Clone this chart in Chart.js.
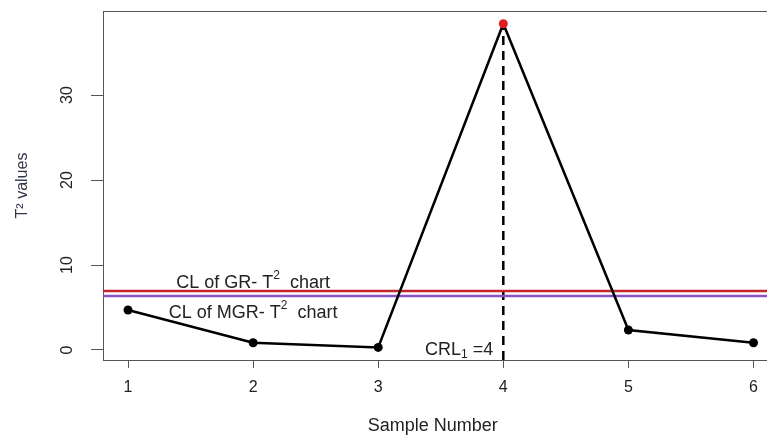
<!DOCTYPE html>
<html>
<head>
<meta charset="utf-8">
<script src="https://cdn.jsdelivr.net/npm/chart.js@4.4.1/dist/chart.umd.min.js"></script>
<style>
html, body { margin: 0; padding: 0; background: #fff; }
</style>
</head>
<body>
<canvas id="t2-chart" width="767" height="437"></canvas>
<script>
const sampleNumbers = [1, 2, 3, 4, 5, 6];
const t2Values = [4.7, 0.85, 0.3, 38.4, 2.35, 0.85];
const clGR = 6.95;
const clMGR = 6.35;
const crlSample = 4;
const xTicks = [1, 2, 3, 4, 5, 6];
const yTicks = [0, 10, 20, 30];
const xRange = [0.8, 6.072];
const yRange = [-1.18, 39.9];
// text parts: [plain, superscript, plain]
const notes = [
    { x: 2, y: 7.9, parts: ['CL of GR- T', '2', '  chart'], align: 'center' },
    { x: 2, y: 4.4, parts: ['CL of MGR- T', '2', '  chart'], align: 'center' },
    { x: 3.92, y: 0.0, parts: ['CRL', '1', ' =4'], align: 'right', sub: true }
];

const FONT = "'Liberation Sans', Arial, sans-serif";
const INK = '#222';

function drawParts(c, n, px, py) {
    let big = '18px ' + FONT, small = '12px ' + FONT;
    c.font = big;
    let w0 = c.measureText(n.parts[0]).width, w2 = c.measureText(n.parts[2]).width;
    c.font = small;
    let w1 = c.measureText(n.parts[1]).width;
    let total = w0 + w1 + w2;
    let x = n.align === 'right' ? px - total : px - total / 2;
    c.textAlign = 'left';
    c.textBaseline = 'middle';
    c.font = big;
    c.fillText(n.parts[0], x, py);
    c.font = small;
    c.fillText(n.parts[1], x + w0, n.sub ? py + 5 : py - 7);
    c.font = big;
    c.fillText(n.parts[2], x + w0 + w1, py);
}

// box top line + text notes, R style
const boxAndNotes = {
    id: 'boxAndNotes',
    afterDatasetsDraw(chart) {
        let c = chart.ctx, a = chart.chartArea;
        let xs = chart.scales.x, ys = chart.scales.y;
        c.save();
        c.strokeStyle = '#555';
        c.lineWidth = 1;
        c.beginPath();
        c.moveTo(a.left, a.top + 0.5);
        c.lineTo(chart.width, a.top + 0.5);
        c.moveTo(a.right, a.bottom + 0.5);
        c.lineTo(chart.width, a.bottom + 0.5);
        c.stroke();
        c.fillStyle = INK;
        notes.forEach(n => drawParts(c, n, xs.getPixelForValue(n.x), ys.getPixelForValue(n.y)));
        c.restore();
    }
};

let ctx = document.getElementById('t2-chart').getContext('2d');
let chart = new Chart(ctx, {
    type: 'line',
    data: {
        datasets: [{
            data: sampleNumbers.map((x, i) => ({ x: x, y: t2Values[i] })),
            borderColor: '#000',
            borderWidth: 2.5,
            pointRadius: 4.5,
            pointBorderWidth: 0,
            pointBackgroundColor: sampleNumbers.map(x => x === crlSample ? '#e02020' : '#000'),
            tension: 0
        }, {
            data: [{ x: xRange[0], y: clGR }, { x: 6.2, y: clGR }],
            borderColor: '#c4262e',
            borderWidth: 2.5,
            pointRadius: 0,
            clip: { left: 0, top: 0, right: 10, bottom: 0 }
        }, {
            data: [{ x: xRange[0], y: clMGR }, { x: 6.2, y: clMGR }],
            borderColor: '#8a52c6',
            borderWidth: 2.5,
            pointRadius: 0,
            clip: { left: 0, top: 0, right: 10, bottom: 0 }
        }, {
            data: [{ x: crlSample, y: yRange[0] }, { x: crlSample, y: t2Values[sampleNumbers.indexOf(crlSample)] }],
            borderColor: '#000',
            borderWidth: 2.5,
            borderDash: [9, 6],
            pointRadius: 0
        }]
    },
    options: {
        responsive: false,
        animation: false,
        layout: { padding: { top: 11, right: 0, left: 0, bottom: 0 } },
        plugins: { legend: { display: false }, tooltip: { enabled: false } },
        scales: {
            x: {
                type: 'linear',
                min: xRange[0],
                max: xRange[1],
                afterBuildTicks: s => { s.ticks = xTicks.map(v => ({ value: v })); },
                afterFit: s => { s.height = 77; s.paddingLeft = 0; s.paddingRight = 0; },
                grid: { drawOnChartArea: false, tickLength: 8, color: '#555' },
                border: { color: '#555', width: 1 },
                ticks: { color: INK, font: { family: FONT, size: 16 }, padding: 10, maxRotation: 0 },
                title: { display: true, text: 'Sample Number', color: INK, font: { family: FONT, size: 18 }, padding: { top: 0, bottom: 0 } }
            },
            y: {
                type: 'linear',
                min: yRange[0],
                max: yRange[1],
                afterBuildTicks: s => { s.ticks = yTicks.map(v => ({ value: v })); },
                afterFit: s => { s.width = 103; s.paddingTop = 0; s.paddingBottom = 0; },
                grid: { drawOnChartArea: false, tickLength: 12, color: '#555' },
                border: { color: '#555', width: 1 },
                ticks: { color: INK, font: { family: FONT, size: 16 }, padding: 15, minRotation: 90, maxRotation: 90, crossAlign: 'center' },
                title: { display: true, text: 'T\u00B2 values', color: '#33364a', font: { family: FONT, size: 16 }, padding: { top: 13 } }
            }
        }
    },
    plugins: [boxAndNotes]
});
</script>
</body>
</html>
